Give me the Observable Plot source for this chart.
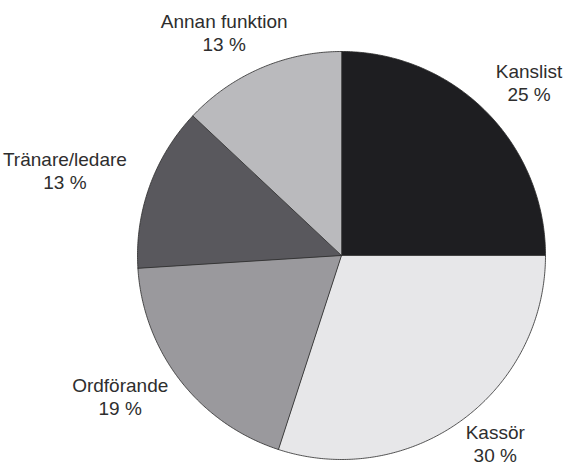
<!DOCTYPE html>
<html><head><meta charset="utf-8">
<script src="https://cdn.jsdelivr.net/npm/d3@7"></script>
<script src="https://cdn.jsdelivr.net/npm/@observablehq/plot@0.6"></script>
<style>body{margin:0;background:#fff}</style>
</head><body><div id="chart"></div>
<script>
// Data
const categories = ["Kanslist", "Kassör", "Ordförande", "Tränare/ledare", "Annan funktion"];
const values = [25, 30, 19, 13, 13];
const percentLabels = ["25 %", "30 %", "19 %", "13 %", "13 %"];
const sliceColors = ["#1e1e21", "#e7e7e9", "#9a999d", "#59585d", "#bababd"];

// Layout
const W = 571, H = 468;
const CX = 341, CY = 255, RADIUS = 204;
const LABEL_RX = 232, LABEL_RY = 238, LABEL_LIFT = 5;
const FONT_SIZE = 19;
const FONT_FAMILY = "'Liberation Sans', Arial, sans-serif";
const LINE_H = 1.21;

const arcs = d3.pie().sort(null).value(d => d)(values);

const pt = (a, r) => [r * Math.sin(a), r * Math.cos(a)]; // unit plane, y up

const slices = arcs.map((a, i) => {
  const n = Math.max(2, Math.ceil((a.endAngle - a.startAngle) / (Math.PI / 360)));
  const ring = [[0, 0]];
  for (let k = 0; k <= n; k++) ring.push(pt(a.startAngle + (a.endAngle - a.startAngle) * k / n, 1));
  ring.push([0, 0]);
  return {name: categories[i], color: sliceColors[i], geometry: {type: "Polygon", coordinates: [ring]}};
});

const ctx = document.createElement("canvas").getContext("2d");
ctx.font = `${FONT_SIZE}px ${FONT_FAMILY}`;
const labels = arcs.map((a, i) => {
  const mid = (a.startAngle + a.endAngle) / 2;
  const s = Math.sin(mid), c = Math.cos(mid);
  const w = Math.max(ctx.measureText(categories[i]).width, ctx.measureText(percentLabels[i]).width);
  const px = LABEL_RX * s + s * w / 2;
  const py = LABEL_RY * c + LABEL_LIFT;
  return {x: px / RADIUS, y: py / RADIUS, text: categories[i] + "\n" + percentLabels[i]};
});

const projection = d3.geoIdentity().reflectY(true).scale(RADIUS).translate([CX, CY]);

const chart = Plot.plot({
  width: W,
  height: H,
  margin: 0,
  projection,
  style: {background: "#fff"},
  marks: [
    Plot.geo(slices, {geometry: d => d.geometry, fill: d => d.color, stroke: "#2a2a2a", strokeWidth: 0.8, strokeLinejoin: "round"}),
    Plot.text(labels, {x: "x", y: "y", text: "text", fontSize: FONT_SIZE, lineHeight: LINE_H, fill: "#2e2e2e",
      fontFamily: FONT_FAMILY})
  ]
});
document.getElementById("chart").appendChild(chart);
</script>
</body></html>
